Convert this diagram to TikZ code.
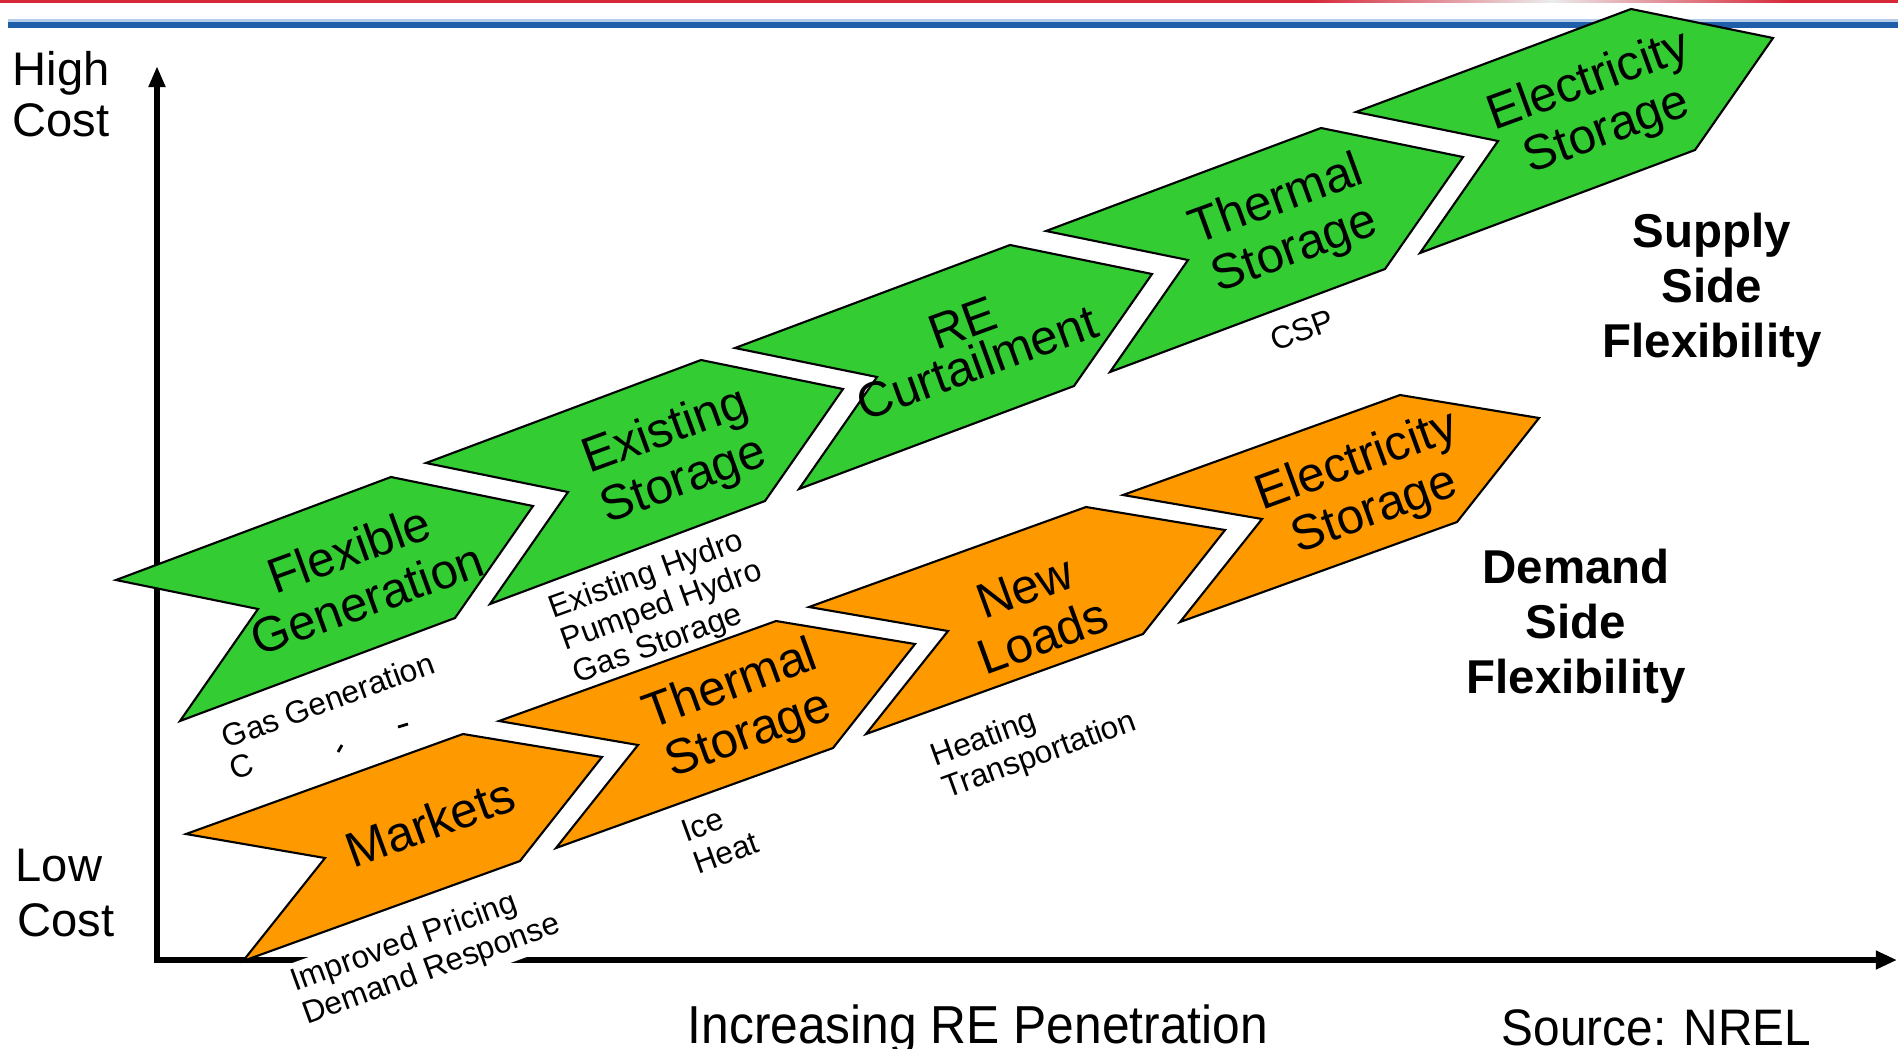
\documentclass[tikz,border=0pt]{standalone}
\usepackage{fontspec}
\setmainfont{Liberation Sans}
\newfontfamily\narrowfont[FakeStretch=0.93]{Liberation Sans}
\usetikzlibrary{arrows.meta}
\definecolor{gfill}{RGB}{51,204,51}
\definecolor{ofill}{RGB}{255,153,0}
\definecolor{redline}{RGB}{214,40,57}
\definecolor{blueD}{RGB}{31,95,170}
\definecolor{blueL}{RGB}{180,205,232}
\begin{document}
\begin{tikzpicture}[x=0.01cm,y=-0.01cm,
  chevline/.style={draw=black, line width=0.6pt, line join=miter},
  pics/gchev/.style={code={\path[chevline, fill=gfill] (0,0) -- (275,-103) -- (417,-74) -- (339,38) -- (64,141) -- (142,29) -- cycle;}},
  pics/ochev/.style={code={\path[chevline, fill=ofill] (0,0) -- (277,-100) -- (416,-77) -- (334,27) -- (57,127) -- (139,24) -- cycle;}},
  bigtxt/.style={font=\fontsize{14}{15}\selectfont, align=center, rotate=20, inner sep=0pt},
  smalltxt/.style={font=\fontsize{9}{9.8}\selectfont, align=left, rotate=20, inner sep=0pt},
  sidetxt/.style={font=\bfseries\fontsize{13.5}{15.6}\selectfont, align=center, inner sep=0pt},
  costtxt/.style={font=\fontsize{13.4}{15}\selectfont, anchor=base west, inner sep=0pt},
  bottomtxt/.style={font=\narrowfont\fontsize{15.2}{16}\selectfont, anchor=base west, inner sep=0pt},
  axisline/.style={line width=1.5pt, line join=miter, {Triangle[length=6pt,width=4.5pt]}-{Triangle[length=6pt,width=5pt]}}
]
\useasboundingbox (0,0) rectangle (1898,1048);
\fill[white] (0,0) rectangle (1898,1048);
% header rules
\fill[redline] (0,0) rectangle (1310,2.5);
\shade[left color=redline, right color=gray!15] (1310,0) rectangle (1550,2.5);
\shade[left color=gray!15, right color=redline] (1550,0) rectangle (1790,2.5);
\fill[redline] (1790,0) rectangle (1898,2.5);
\fill[blueL] (8,19) rectangle (1898,22);
\fill[blueD] (8,22) rectangle (1898,28);
% axes
\coordinate (ytop) at (157,66);
\coordinate (origin) at (157,960);
\coordinate (xend) at (1897,960);
\draw[axisline] (ytop) -- (origin) -- (xend);
% label that masks the axis
\node[smalltxt, fill=white, inner sep=1.5pt] (pricing) at (426,954) {Improved Pricing\\Demand Response};
% supply side chevrons
\pic at (116,580) {gchev};
\pic at (426,463) {gchev};
\pic at (735,348) {gchev};
\pic at (1046,231) {gchev};
\pic at (1356,112) {gchev};
% demand side chevrons
\pic at (186,834) {ochev};
\pic at (499,721) {ochev};
\pic at (809,607) {ochev};
\pic at (1123,495) {ochev};
% chevron labels
\node[bigtxt] (fg) at (358,574) {Flexible\\Generation};
\node[bigtxt] (es) at (675,457) {Existing\\Storage};
\node[bigtxt] (rc) at (970,343) {RE\\[-3pt]Curtailment};
\node[bigtxt] (tsg) at (1286,226) {Thermal\\Storage};
\node[bigtxt] (egs) at (1598,107) {Electricity\\Storage};
\node[bigtxt] (mk) at (430,822) {Markets};
\node[bigtxt] (tso) at (740,711) {Thermal\\Storage};
\node[bigtxt] (nl) at (1034,612) {New\\Loads};
\node[bigtxt] (eos) at (1366,487) {Electricity\\Storage};
% sub labels
\node[smalltxt] (gasgen) at (328,700) {Gas Generation};
\node[smalltxt] (cfrag) at (242,766) {C};
\coordinate (t1a) at (338,752); \coordinate (t1b) at (342,745);
\draw[line width=0.8pt] (t1a) -- (t1b);
\coordinate (t2a) at (398,727); \coordinate (t2b) at (408,724);
\draw[line width=0.8pt] (t2a) -- (t2b);
\node[smalltxt] (hydro) at (662,607) {Existing Hydro\\Pumped Hydro\\Gas Storage};
\node[smalltxt] (csp) at (1302,330) {CSP};
\node[smalltxt] (iceheat) at (720,837) {Ice\\Heat};
\node[smalltxt] (heating) at (1034,740) {Heating\\Transportation};
% side titles
\node[sidetxt] (supply) at (1712,290) {Supply\\Side\\Flexibility};
\node[sidetxt] (demand) at (1576,626) {Demand\\Side\\Flexibility};
% axis labels
\node[costtxt] (high) at (12,85) {High};
\node[costtxt] (hcost) at (12,136) {Cost};
\node[costtxt] (low) at (15,881) {Low};
\node[costtxt] (lcost) at (17,936) {Cost};
\node[bottomtxt] (incr) at (687,1043) {Increasing RE Penetration};
\node[bottomtxt, font=\narrowfont\fontsize{14.6}{16}\selectfont] (src) at (1501,1045) {Source: NREL};
\end{tikzpicture}
\end{document}
